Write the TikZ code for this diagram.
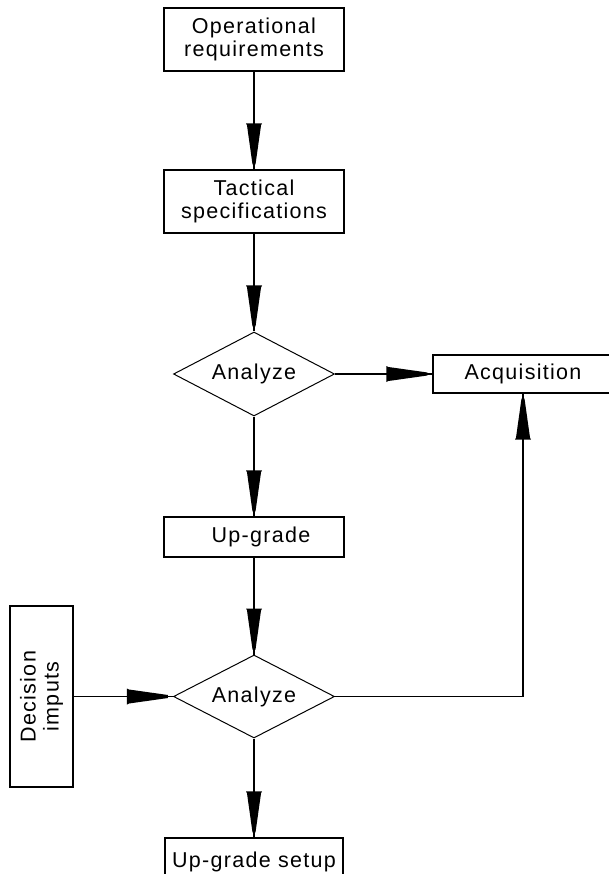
\documentclass[tikz,border=0pt]{standalone}
\usepackage{fontspec}
\setmainfont{Liberation Sans}[LetterSpace=6]
\usetikzlibrary{shapes.geometric,decorations.markings}
\tikzset{
  lbl/.style={font=\fontsize{21.5}{23}\selectfont, align=center},
  box/.style={lbl, draw, line width=1.1pt, inner sep=0pt},
  dia/.style={lbl, draw, diamond, shape aspect=2, inner sep=0pt,
    minimum width=161pt, minimum height=84pt, line width=1pt},
  conn/.style={line width=1.1pt, postaction={decorate},
    decoration={markings, mark=at position -5pt with {
      \fill (-41pt,8pt) -- (-39pt,7pt) -- (0pt,1.5pt) -- (0pt,-1.5pt)
        -- (-39pt,-7pt) -- (-41pt,-8pt) -- cycle;}}}
}
\begin{document}
\begin{tikzpicture}[x=1pt,y=-1pt]
  \useasboundingbox (0,0) rectangle (609,874);
  \clip (0,0) rectangle (609,874);
  \fill[white] (0,0) rectangle (609,874);

  \node[box, minimum width=180pt, minimum height=63pt] (op) at (254,39.5)
    {Operational\\requirements};
  \node[box, minimum width=180pt, minimum height=63pt] (tac) at (254,201.5)
    {Tactical\\specifications};
  \node[dia] (d1) at (254,374) {Analyze};
  \node[box, minimum width=180pt, minimum height=38pt] (acq) at (523,374)
    {Acquisition};
  \node[box, minimum width=180pt, minimum height=40pt] (up) at (254,537)
    {\hspace*{14pt}Up-grade};
  \node[dia, minimum height=83pt] (d2) at (254,696.5) {Analyze};
  \node[box, rotate=90, minimum width=181pt, minimum height=63pt] (dec) at (41.5,696.5)
    {Decision\\imputs};
  \node[box, minimum width=178pt, minimum height=48pt] (set) at (254,862)
    {Up-grade setup};

  \draw[conn] (op) -- (tac);
  \draw[conn] (tac) -- (d1);
  \draw[conn] (d1) -- (acq);
  \draw[conn] (d1) -- (up);
  \draw[conn] (up) -- (d2);
  \draw[conn] (dec) -- (d2);
  \draw[conn] (d2) -- (set);
  \draw[conn] (d2.east) -| (acq.south);
\end{tikzpicture}
\end{document}
